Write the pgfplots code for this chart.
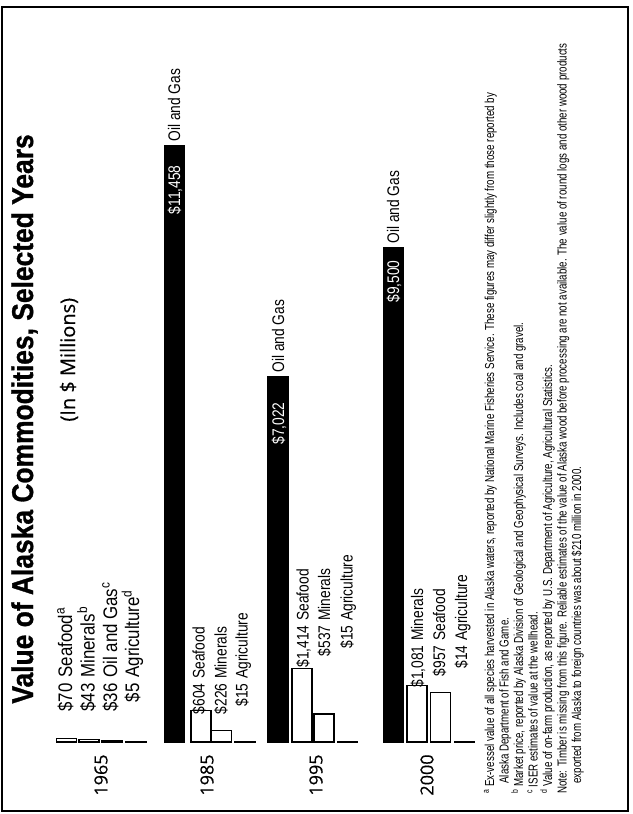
\documentclass[border=0pt]{standalone}
\usepackage{pgfplots}
\pgfplotsset{compat=1.18}
\usepackage{fontspec}
\setmainfont{Liberation Sans}
\newfontfamily\cond[FakeStretch=0.82]{Liberation Sans}
\newfontfamily\condl[FakeStretch=0.86]{Liberation Sans}
\newfontfamily\ttl[FakeStretch=0.88,FakeBold=1]{Liberation Sans Bold}
\newfontfamily\foot[FakeStretch=0.75]{Liberation Sans}
\newfontfamily\yr[FakeBold=0.4]{Open Sans}
\newcommand{\lab}[5]{%
  \node[rotate=90,anchor=base east,inner sep=0] at ({#1+5},#2) {\cond\fontsize{8.4}{9}\selectfont #4};
  \node[rotate=90,anchor=base west,inner sep=0] at ({#1+5},#3) {\cond\fontsize{8.4}{9}\selectfont #5};}
\newcommand{\labl}[5]{%
  \node[rotate=90,anchor=base east,inner sep=0] at ({#1+5.5},#2) {\condl\fontsize{9.8}{10}\selectfont #4};
  \node[rotate=90,anchor=base west,inner sep=0] at ({#1+5.5},#3) {\condl\fontsize{9.8}{10}\selectfont #5};}
\newcommand{\fn}[3]{%
  \node[rotate=90,anchor=base west,inner sep=0] at (#1,#2) {\foot\fontsize{6.5}{7}\selectfont #3};}
\begin{document}
\begin{tikzpicture}
\path[use as bounding box] (0pt,0pt) rectangle (316pt,-407pt);
\begin{axis}[at={(0pt,-407pt)}, anchor=south west, scale only axis,
  width=316pt, height=407pt, xmin=0, xmax=632, ymin=-1384, ymax=14261,
  hide axis, clip=false, ybar, bar width=20, bar shift=0pt]
% Oil and Gas
\addplot[fill=black, draw=black, line width=0.6pt] coordinates {(112,36) (174.5,11458) (278,7022) (393.5,9500)};
% Seafood
\addplot[fill=white, draw=black, line width=0.7pt] coordinates {(66.5,70) (201,604) (302,1414) (440.5,957)};
% Minerals
\addplot[fill=white, draw=black, line width=0.7pt] coordinates {(89,43) (221.5,226) (324,537) (417,1081)};
% Agriculture
\addplot[fill=white, draw=black, line width=0.7pt] coordinates {(136,5) (245,15) (347.5,15) (464.5,14)};
\end{axis}
\begin{scope}[x=0.5pt, y=-0.5pt]
\draw[line width=0.6pt] (2,7) rectangle (628,811);
% title
\node[rotate=90,anchor=base west,inner sep=0] at (33,704) {\ttl\fontsize{15}{17}\selectfont Value of Alaska Commodities, Selected Years};
\node[rotate=90,anchor=base west,inner sep=0] at (75,422) {\yr\fontsize{10}{12}\selectfont (In \$ Millions)};
% years
\node[rotate=90,inner sep=0] at (101,775) {\yr\fontsize{9}{10}\selectfont 1965};
\node[rotate=90,inner sep=0] at (207,775) {\yr\fontsize{9}{10}\selectfont 1985};
\node[rotate=90,inner sep=0] at (316,775) {\yr\fontsize{9}{10}\selectfont 1995};
\node[rotate=90,inner sep=0] at (427,775) {\yr\fontsize{9}{10}\selectfont 2000};
% 1965 labels
\labl{66.5}{683}{678}{\$70}{Seafood\textsuperscript{a}}
\labl{89}{683}{678}{\$43}{Minerals\textsuperscript{b}}
\labl{111.5}{683}{678}{\$36}{Oil and Gas\textsuperscript{c}}
\labl{133.5}{683}{678}{\$5}{Agriculture\textsuperscript{d}}
% 1985
\lab{199.5}{683}{679}{\$604}{Seafood}
\lab{221.5}{683}{679}{\$226}{Minerals}
\lab{242.5}{683}{679}{\$15}{Agriculture}
% 1995
\lab{303.5}{625}{621}{\$1,414}{Seafood}
\lab{325}{625}{621}{\$537}{Minerals}
\lab{347.5}{625}{621}{\$15}{Agriculture}
% 2000
\lab{418}{645}{641}{\$1,081}{Minerals}
\lab{440}{645}{641}{\$957}{Seafood}
\lab{462}{645}{641}{\$14}{Agriculture}
% Oil and Gas labels
\node[rotate=90,anchor=base west,inner sep=0] at (180,142) {\cond\fontsize{8.4}{9}\selectfont Oil and Gas};
\node[rotate=90,anchor=base west,inner sep=0] at (284,373) {\cond\fontsize{8.4}{9}\selectfont Oil and Gas};
\node[rotate=90,anchor=base west,inner sep=0] at (399,244) {\cond\fontsize{8.4}{9}\selectfont Oil and Gas};
\node[rotate=90,anchor=base east,inner sep=0,text=white] at (180,165) {\cond\fontsize{8.4}{9}\selectfont \$11,458};
\node[rotate=90,anchor=base east,inner sep=0,text=white] at (284,402) {\cond\fontsize{8.4}{9}\selectfont \$7,022};
\node[rotate=90,anchor=base east,inner sep=0,text=white] at (399,260) {\cond\fontsize{8.4}{9}\selectfont \$9,500};
% footnotes
\fn{494}{794}{\textsuperscript{a}\,Ex-vessel value of all species harvested in Alaska waters, reported by National Marine Fisheries Service. These figures may differ slightly from those reported by}
\fn{508.5}{784}{Alaska Department of Fish and Game.}
\fn{523}{794}{\textsuperscript{b}\,Market price, reported by Alaska Division of Geological and Geophysical Surveys. Includes coal and gravel.}
\fn{537.5}{794}{\textsuperscript{c}\,ISER estimates of value at the wellhead.}
\fn{552}{794}{\textsuperscript{d}\,Value of on-farm production, as reported by U.S. Department of Agriculture, Agricultural Statistics.}
\fn{566.5}{794}{Note: Timber is missing from this figure. Reliable estimates of the value of Alaska wood before processing are not available. The value of round logs and other wood products}
\fn{581}{784}{exported from Alaska to foreign countries was about \$210 million in 2000.}
\end{scope}
\end{tikzpicture}
\end{document}
